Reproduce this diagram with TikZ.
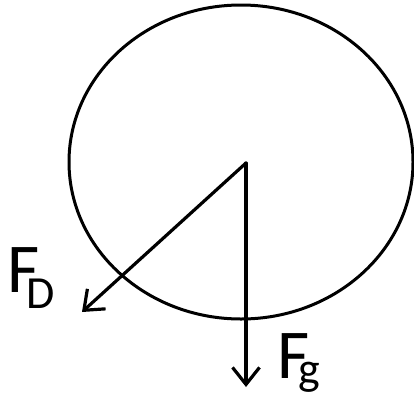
\documentclass[tikz,border=0pt]{standalone}
\usepackage{fontspec}
\setmainfont{Carlito}
\usetikzlibrary{arrows.meta,shapes.geometric}
\begin{document}
\begin{tikzpicture}[x=1pt,y=-1pt,
  body/.style={draw=black,line width=3pt,ellipse,minimum width=344pt,minimum height=314pt,inner sep=0pt},
  force/.style={line width=3.2pt,line cap=round,-{Straight Barb[length=17pt,width=27pt,line width=3.2pt]}},
  bigF/.style={inner sep=0pt,anchor=base west,font=\fontsize{70}{70}\selectfont},
  subF/.style={inner sep=0pt,anchor=base west,font=\fontsize{46}{46}\selectfont}]
\useasboundingbox (0,0) rectangle (414,394);
\node[body] (ball) at (241,162) {};
\coordinate (o) at (246,163);
\coordinate (tipD) at (82,312);
\coordinate (tipG) at (246,387);
\draw[force] (o) -- (tipD);
\draw[force] (o) -- (tipG);
\node[bigF] (FD) at (7,292) {F};
\node[subF] (FDs) at (26,308) {D};
\node[bigF] (Fg) at (277,378) {F};
\node[subF] (Fgs) at (298,384) {g};
\end{tikzpicture}
\end{document}
